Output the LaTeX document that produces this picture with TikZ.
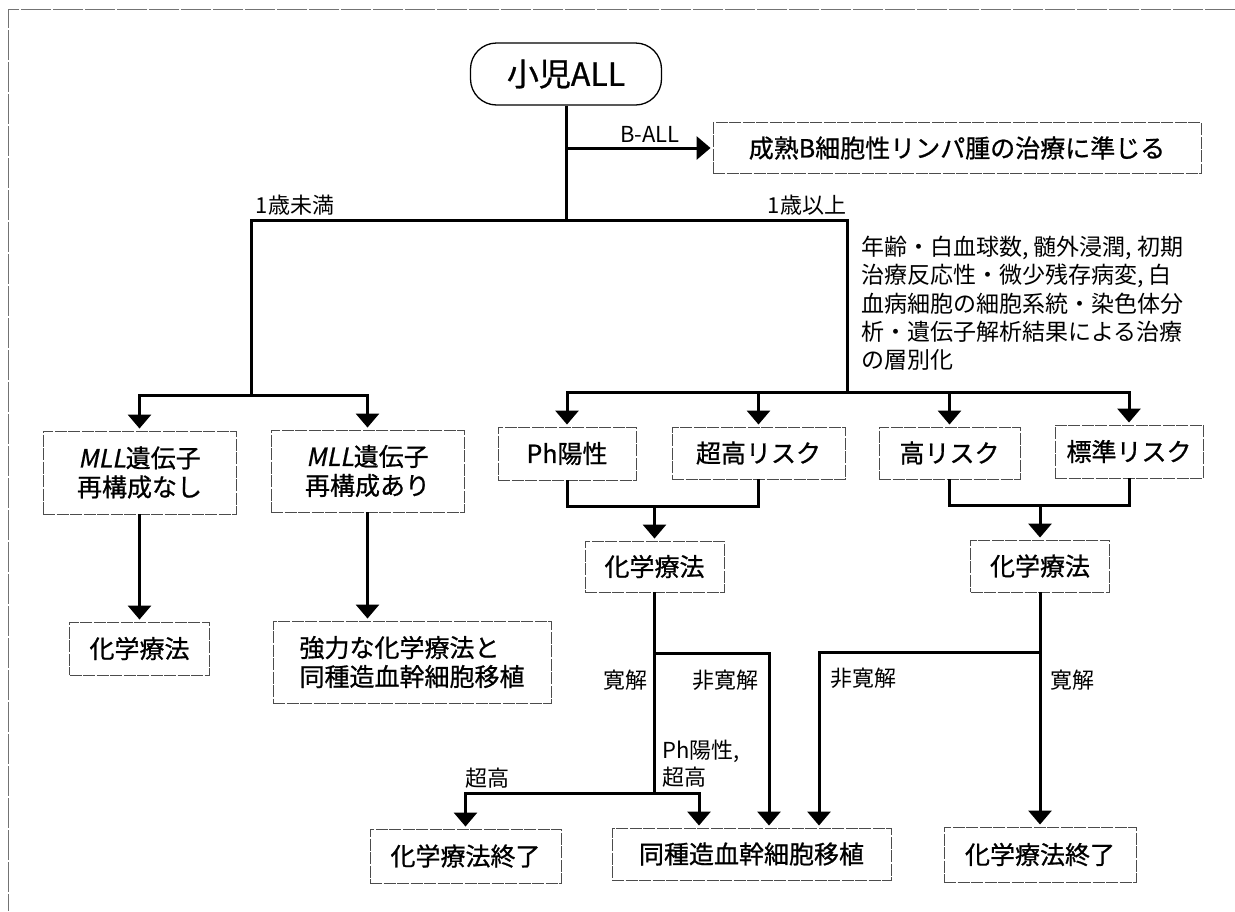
\documentclass[tikz,border=0pt]{standalone}
\usepackage{fontspec}
\setmainfont{Noto Sans CJK JP}
\newfontfamily\jpm[FakeBold=0.8]{Noto Sans CJK JP}
\newfontfamily\jpit[FakeSlant=0.2,FakeBold=0.8]{Noto Sans CJK JP}
\usetikzlibrary{arrows.meta}
\tikzset{
  box/.style={draw=black!70, line width=0.9pt, dash pattern=on 12pt off 1.5pt,
    inner sep=0pt, align=center, font=\jpm\fontsize{25}{29}\selectfont},
  ln/.style={line width=3pt},
  arr/.style={line width=3pt, -{Triangle[width=23pt,length=14pt]}, shorten >=2pt},
  lbl/.style={inner sep=0pt, font=\fontsize{22}{27}\selectfont},
  frame/.style={draw=black!55, line width=0.8pt, dash pattern=on 30pt off 2pt}
}
\begin{document}
\begin{tikzpicture}[x=1pt,y=-1pt]
\useasboundingbox (0,0) rectangle (1235,911);
\fill[white] (0,0) rectangle (1235,911);
\draw[frame] (1235,9) -- (8,9) -- (8,911);

% nodes
\node[draw=black, line width=1.3pt, rounded corners=26pt, minimum width=191pt, minimum height=62pt,
      inner sep=0pt, font=\jpm\fontsize{32}{36}\selectfont] (root) at (566,74) {小児ALL};
\node[box, minimum width=488pt, minimum height=51pt] (bball) at (957,148) {成熟B細胞性リンパ腫の治療に準じる};

\node[box, minimum width=193pt, minimum height=83pt] (mll1) at (139.5,472.5) {{\jpit MLL}遺伝子\\再構成なし};
\node[box, minimum width=193pt, minimum height=82pt] (mll2) at (367.5,471) {{\jpit MLL}遺伝子\\再構成あり};

\node[box, minimum width=138pt, minimum height=53pt] (ph) at (567,453.5) {Ph陽性};
\node[box, minimum width=173pt, minimum height=52pt] (vhr) at (758.5,453) {超高リスク};
\node[box, minimum width=141pt, minimum height=52pt] (hr) at (949.5,453) {高リスク};
\node[box, minimum width=148pt, minimum height=53pt] (sr) at (1129,451.5) {標準リスク};

\node[box, minimum width=140pt, minimum height=53pt] (chemoL) at (139.5,648.5) {化学療法};
\node[box, minimum width=278pt, minimum height=82pt, align=left] (intense) at (412,662) {強力な化学療法と\\同種造血幹細胞移植};

\node[box, minimum width=139pt, minimum height=51pt] (chemoM) at (654.5,566.5) {化学療法};
\node[box, minimum width=139pt, minimum height=52pt] (chemoR) at (1040,566) {化学療法};

\node[box, minimum width=191pt, minimum height=54pt] (endL) at (465.5,856) {化学療法終了};
\node[box, minimum width=279pt, minimum height=52pt] (hsct) at (751.5,854) {同種造血幹細胞移植};
\node[box, minimum width=192pt, minimum height=55pt] (endR) at (1040,854.5) {化学療法終了};

% text labels
\node[lbl] (lbAll) at (650,134) {B-ALL};
\node[lbl] (lbU1) at (295,205) {1歳未満};
\node[lbl] (lbO1) at (807,205) {1歳以上};
\node[inner sep=0pt, anchor=north west, align=left, font=\fontsize{23}{28.3}\selectfont] (strat) at (861,236)
  {年齢・白血球数, 髄外浸潤, 初期\\治療反応性・微少残存病変, 白\\血病細胞の細胞系統・染色体分\\析・遺伝子解析結果による治療\\の層別化};
\node[lbl] (lbR1) at (625,680) {寛解};
\node[lbl] (lbN1) at (725,680) {非寛解};
\node[lbl] (lbN2) at (863,678) {非寛解};
\node[lbl] (lbR2) at (1072,680) {寛解};
\node[lbl, anchor=west, align=left] (lbPh) at (662,764) {Ph陽性,\\超高};
\node[lbl] (lbVH) at (487,778) {超高};

% junction coordinates
\coordinate (jroot) at (566,220);
\coordinate (jl) at (251,220);
\coordinate (jr) at (847,220);
\coordinate (jl2) at (251,395);
\coordinate (jr2) at (847,392);
\coordinate (jb) at (566,148);
\coordinate (jA) at (654.5,506);
\coordinate (jB) at (1040,505);
\coordinate (jC) at (654.5,653);
\coordinate (jD) at (654.5,793);
\coordinate (jE) at (1040,652);
\coordinate (h1) at ([xshift=-52.5pt]hsct.north);
\coordinate (h2) at ([xshift=17.5pt]hsct.north);
\coordinate (h3) at ([xshift=67.5pt]hsct.north);

% connectors
\draw[ln] (root.south) -- (jroot);
\draw[arr] (jb) -- (bball.west);
\draw[ln] (jl2) -- (jl) -- (jr) -- (jr2);
\draw[arr] (jl2) -| (mll1.north);
\draw[arr] (jl2) -| (mll2.north);
\draw[arr] (jr2) -| (ph.north);
\draw[arr] (jr2) -| (sr.north);
\draw[arr] (vhr.north |- jr2) -- (vhr.north);
\draw[arr] (hr.north |- jr2) -- (hr.north);

\draw[ln] (ph.south) |- (jA) -| (vhr.south);
\draw[arr] (jA) -- (chemoM.north);
\draw[ln] (hr.south) |- (jB) -| (sr.south);
\draw[arr] (jB) -- (chemoR.north);

\draw[arr] (mll1.south) -- (chemoL.north);
\draw[arr] (mll2.south) -- (mll2.south |- intense.north);

\draw[ln] (chemoM.south) -- (jD);
\draw[arr] (jC) -| (h2);
\draw[arr] (jD) -| (endL.north);
\draw[arr] (jD) -| (h1);
\draw[arr] (chemoR.south) -- (endR.north);
\draw[arr] (jE) -| (h3);
\end{tikzpicture}
\end{document}
